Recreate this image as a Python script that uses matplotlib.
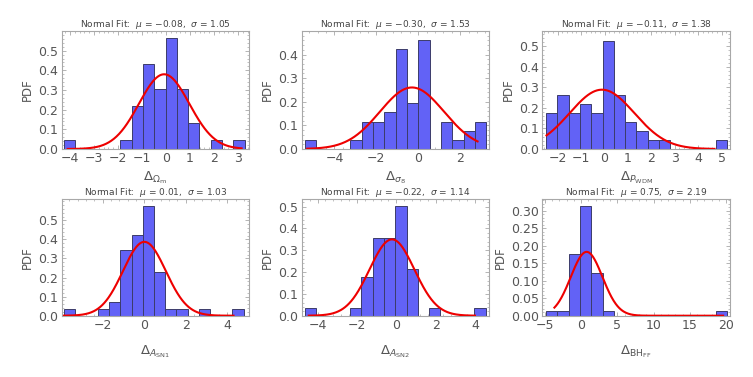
import numpy as np
import matplotlib
matplotlib.use("Agg")
import matplotlib.pyplot as plt
from matplotlib.ticker import AutoMinorLocator

# histogram data (bin start, bin width, PDF heights)
bin_start = [-4.25, -5.40, -2.50, -3.85, -4.64, -4.86]
bin_width = [0.47, 0.54, 0.483, 0.54, 0.574, 1.565]
heights_om = [0.044, 0, 0, 0, 0, 0.044, 0.219, 0.433, 0.304, 0.565, 0.304, 0.132, 0, 0.044, 0, 0.044]
heights_s8 = [0.039, 0, 0, 0, 0.039, 0.116, 0.116, 0.155, 0.424, 0.194, 0.463, 0, 0.116, 0.039, 0.078, 0.116]
heights_wdm = [0.176, 0.264, 0.176, 0.220, 0.176, 0.528, 0.264, 0.132, 0.088, 0.044, 0.044, 0, 0, 0, 0, 0.044]
heights_sn1 = [0.036, 0, 0, 0.036, 0.074, 0.343, 0.421, 0.573, 0.229, 0.036, 0.036, 0, 0.036, 0, 0, 0.036]
heights_sn2 = [0.035, 0, 0, 0, 0.035, 0.179, 0.358, 0.358, 0.503, 0.214, 0, 0.035, 0, 0, 0, 0.035]
heights_bh = [0.0125, 0.0125, 0.176, 0.312, 0.122, 0.0125, 0, 0, 0, 0, 0, 0, 0, 0, 0, 0.0125]
heights = [heights_om, heights_s8, heights_wdm, heights_sn1, heights_sn2, heights_bh]

# normal fit parameters
mus = [-0.08, -0.30, -0.11, 0.01, -0.22, 0.75]
sigmas = [1.05, 1.53, 1.38, 1.03, 1.14, 2.19]
curve_lo = [-4.1, -5.3, -2.48, -3.86, -4.45, -3.7]
curve_hi = [3.15, 2.83, 4.7, 4.3, 4.0, 19.6]

xlabels = [r'$\Delta_{\Omega_{\rm m}}$', r'$\Delta_{\sigma_8}$', r'$\Delta_{P_{\rm WDM}}$',
           r'$\Delta_{A_{\rm SN1}}$', r'$\Delta_{A_{\rm SN2}}$', r'$\Delta_{\rm BH_{FF}}$']
xlims = [(-4.35, 3.47), (-5.56, 3.39), (-2.66, 5.36), (-3.97, 5.06), (-4.81, 4.73), (-5.37, 20.55)]
ylims = [0.60, 0.50, 0.575, 0.612, 0.535, 0.333]
xticks = [np.arange(-4, 4), [-4, -2, 0, 2], np.arange(-2, 6), [-2, 0, 2, 4], [-4, -2, 0, 2, 4], [-5, 0, 5, 10, 15, 20]]
yticks = [np.arange(0, 0.51, 0.1), np.arange(0, 0.41, 0.1), np.arange(0, 0.51, 0.1),
          np.arange(0, 0.51, 0.1), np.arange(0, 0.51, 0.1), np.arange(0, 0.301, 0.05)]
yfmt = ['%.1f', '%.1f', '%.1f', '%.1f', '%.1f', '%.2f']

W, H = 753, 377
fig = plt.figure(figsize=(W / 100, H / 100), dpi=100)

# axes frames in pixels: left, right for each column; top, bottom for each row
cols = [(61.7, 249.3), (301.7, 489.3), (542.3, 730.0)]
rows = [(31.0, 149.0), (199.0, 315.7)]

gray = '#555555'
frame = '#a8a8a8'

for i in range(6):
    r, c = divmod(i, 3)
    x0, x1 = cols[c]
    y0, y1 = rows[r]
    ax = fig.add_axes([x0 / W, 1 - y1 / H, (x1 - x0) / W, (y1 - y0) / H])
    h = heights[i]
    edges = bin_start[i] + bin_width[i] * np.arange(len(h))
    for e, v in zip(edges, h):
        if v > 0:
            ax.bar(e, v, width=bin_width[i], align='edge', color='#6262f6',
                   edgecolor='#3c3c6a', linewidth=0.7, zorder=2)
    xs = np.linspace(curve_lo[i], curve_hi[i], 400)
    ys = np.exp(-0.5 * ((xs - mus[i]) / sigmas[i]) ** 2) / (sigmas[i] * np.sqrt(2 * np.pi))
    ax.plot(xs, ys, color='#ee0000', lw=1.5, zorder=3)

    ax.set_xlim(*xlims[i])
    ax.set_ylim(0, ylims[i])
    ax.set_xticks(xticks[i])
    ax.set_xticklabels([str(t).replace('-', '\u2212') for t in xticks[i]])
    ax.set_yticks(yticks[i])
    ax.set_yticklabels([yfmt[i] % t for t in yticks[i]])
    ax.xaxis.set_minor_locator(AutoMinorLocator(5))
    ax.yaxis.set_minor_locator(AutoMinorLocator(5))
    ax.tick_params(which='both', direction='in', top=True, right=True,
                   color=frame, labelcolor=gray, labelsize=9, pad=2.5)
    ax.tick_params(which='major', length=3, width=0.6)
    ax.tick_params(which='minor', length=1.5, width=0.5)
    for s in ax.spines.values():
        s.set_color(frame)
        s.set_linewidth(0.8)

    mu_s = ('%.2f' % mus[i]).replace('-', '\u2212')
    ax.set_title('Normal Fit:  $\\mu$ = %s,  $\\sigma$ = %.2f' % (mu_s, sigmas[i]),
                 fontsize=6.5, color='#444444', pad=1)
    ax.set_ylabel('PDF', color=gray, fontsize=8.5, labelpad=3)
    ax.set_xlabel(xlabels[i], color=gray, fontsize=9.5, labelpad=3 if r == 0 else 8)

fig.savefig('out.png', dpi=100)
